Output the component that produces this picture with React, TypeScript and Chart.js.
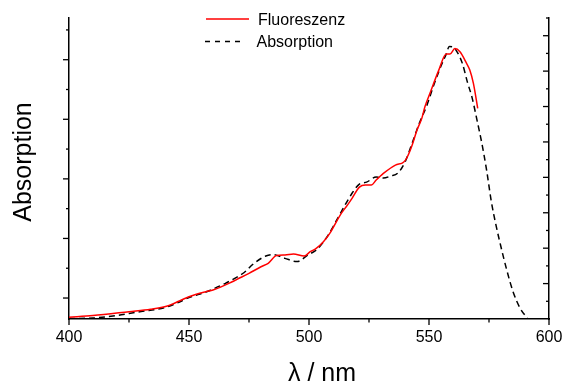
import React, { useEffect, useRef } from 'react';
import { Chart, registerables } from 'chart.js';

Chart.register(...registerables);

const FONT = '"Liberation Sans", Arial, Helvetica, sans-serif';

// Fluoreszenz (red, solid)
const fluorNm = [400, 410, 425, 434, 441, 446, 450, 457, 460, 468, 470, 475, 480, 483, 486.5, 490, 493.5, 498, 500.5, 503, 506, 509, 513, 516, 518, 521, 523.5, 526, 528, 531, 536, 539.5, 541, 543, 545, 547, 548.3, 550.4, 554, 557.2, 558.75, 560.8, 562.9, 565.5, 567, 568.5, 570.3];
const fluorVal = [-0.324, -0.294, -0.23, -0.19, -0.134, -0.05, 0.022, 0.106, 0.134, 0.273, 0.314, 0.414, 0.525, 0.582, 0.713, 0.721, 0.738, 0.705, 0.777, 0.834, 0.945, 1.107, 1.393, 1.56, 1.678, 1.862, 1.896, 1.896, 1.98, 2.092, 2.232, 2.282, 2.371, 2.567, 2.819, 3.015, 3.21, 3.435, 3.817, 4.094, 4.094, 4.186, 4.133, 3.951, 3.826, 3.602, 3.183];

// Absorption (black, dashed)
const absNm = [400, 410, 420, 425, 430, 440, 445, 450, 457, 460, 465, 470, 473, 477, 482, 485, 490, 495, 499.5, 503.5, 508, 512, 515, 518, 521, 524, 528, 531, 534, 537, 540, 543, 546, 549, 552, 555, 557, 558.5, 560, 562, 564, 566, 568, 570, 572, 574, 576, 578, 580, 582.4, 585, 588, 590.5, 591.5];
const absVal = [-0.344, -0.336, -0.294, -0.26, -0.227, -0.159, -0.084, 0.008, 0.101, 0.151, 0.243, 0.352, 0.428, 0.579, 0.705, 0.73, 0.666, 0.612, 0.721, 0.822, 1.057, 1.342, 1.56, 1.762, 1.913, 1.946, 2.03, 2.013, 2.047, 2.097, 2.282, 2.601, 2.936, 3.221, 3.574, 3.893, 4.077, 4.22, 4.211, 4.111, 3.926, 3.624, 3.356, 2.987, 2.601, 2.148, 1.611, 1.208, 0.856, 0.47, 0.109, -0.173, -0.314, -0.361];

// Tick positions
const xTickLabels = [400, 450, 500, 550, 600];
const xMinorTicks = [425, 475, 525, 575];
const leftMajorTicks = [0, 1, 2, 3, 4];
const leftMinorTicks = [0.5, 1.5, 2.5, 3.5, 4.5];
const rightMajorTicks = [1, 2, 3, 4, 5, 6, 7, 8];
const rightMinorTicks = [0.5, 1.5, 2.5, 3.5, 4.5, 5.5, 6.5, 7.5, 8.5];

const seriesNames = ['Fluoreszenz', 'Absorption'];
const xTitle = 'λ / nm';
const yTitle = 'Absorption';

const decorPlugin = {
  id: 'decor',
  afterDraw(chart: any) {
    const { ctx, chartArea, scales } = chart;
    const sx = scales.x;
    const sy = scales.y;
    const sy2 = scales.y2;
    ctx.save();
    ctx.strokeStyle = '#000';
    ctx.lineWidth = 1.3;
    const seg = (x1: number, y1: number, x2: number, y2: number) => {
      ctx.beginPath();
      ctx.moveTo(x1, y1);
      ctx.lineTo(x2, y2);
      ctx.stroke();
    };
    const b = chartArea.bottom;
    xTickLabels.forEach((v) => { const p = sx.getPixelForValue(v); seg(p, b, p, b + 6); });
    xMinorTicks.forEach((v) => { const p = sx.getPixelForValue(v); seg(p, b, p, b + 3.5); });
    const l = chartArea.left;
    leftMajorTicks.forEach((v) => { const p = sy.getPixelForValue(v); seg(l - 6, p, l, p); });
    leftMinorTicks.forEach((v) => { const p = sy.getPixelForValue(v); seg(l - 3, p, l, p); });
    const r = chartArea.right;
    rightMajorTicks.forEach((v) => { const p = sy2.getPixelForValue(v); seg(r - 6, p, r, p); });
    rightMinorTicks.forEach((v) => { const p = sy2.getPixelForValue(v); seg(r - 3, p, r, p); });

    // axis titles
    ctx.fillStyle = '#000';
    ctx.font = `25px ${FONT}`;
    ctx.textAlign = 'center';
    ctx.textBaseline = 'alphabetic';
    ctx.fillText(xTitle, 322, 381);
    ctx.save();
    ctx.translate(30.5, 162);
    ctx.rotate(-Math.PI / 2);
    ctx.fillText(yTitle, 0, 0);
    ctx.restore();

    // legend
    ctx.font = `16px ${FONT}`;
    ctx.textAlign = 'left';
    ctx.lineWidth = 1.5;
    ctx.strokeStyle = '#ff0000';
    seg(206, 19, 249, 19);
    ctx.fillText(seriesNames[0], 258, 25);
    ctx.strokeStyle = '#000';
    ctx.setLineDash([5, 5]);
    seg(205, 41.5, 244, 41.5);
    ctx.setLineDash([]);
    ctx.fillText(seriesNames[1], 256.5, 47);
    ctx.restore();
  },
};

export default function App() {
  const canvasRef = useRef<HTMLCanvasElement | null>(null);

  useEffect(() => {
    if (!canvasRef.current) return;
    const chart = new Chart(canvasRef.current, {
      type: 'line',
      data: {
        datasets: [
          {
            label: seriesNames[0],
            data: fluorNm.map((x, i) => ({ x, y: fluorVal[i] })),
            borderColor: '#ff0000',
            borderWidth: 1.5,
            pointRadius: 0,
            fill: false,
            cubicInterpolationMode: 'monotone',
            yAxisID: 'y',
          },
          {
            label: seriesNames[1],
            data: absNm.map((x, i) => ({ x, y: absVal[i] })),
            borderColor: '#000000',
            borderWidth: 1.5,
            borderDash: [6, 4],
            pointRadius: 0,
            fill: false,
            cubicInterpolationMode: 'monotone',
            yAxisID: 'y',
          },
        ],
      },
      options: {
        responsive: false,
        maintainAspectRatio: false,
        animation: false,
        layout: { padding: { top: 18, left: 0, right: 0, bottom: 0 } },
        plugins: { legend: { display: false }, tooltip: { enabled: false } },
        scales: {
          x: {
            type: 'linear',
            position: 'bottom',
            min: 400,
            max: 600,
            afterFit: (s: any) => {
              s.height = 64;
              s.paddingLeft = 0;
              s.paddingRight = 0;
            },
            afterBuildTicks: (s: any) => { s.ticks = xTickLabels.map((v) => ({ value: v })); },
            ticks: {
              color: '#000',
              font: { family: FONT, size: 16 },
              padding: 9,
              maxRotation: 0,
              autoSkip: false,
            },
            grid: { display: false, drawTicks: false },
            border: { display: true, color: '#000', width: 1.5 },
          },
          y: {
            type: 'linear',
            position: 'left',
            min: -0.352,
            max: 4.7,
            afterFit: (s: any) => { s.width = 69; },
            ticks: { display: false },
            grid: { display: false, drawTicks: false },
            border: { display: true, color: '#000', width: 1.5 },
          },
          y2: {
            type: 'linear',
            position: 'right',
            min: 0,
            max: 8.5,
            afterFit: (s: any) => { s.width = 16; },
            ticks: { display: false },
            grid: { display: false, drawTicks: false },
            border: { display: true, color: '#000', width: 1.5 },
          },
        },
      },
      plugins: [decorPlugin],
    });
    return () => chart.destroy();
  }, []);

  return (
    <div style={{ position: 'fixed', left: 0, top: 0, width: 565, height: 383, background: '#fff' }}>
      <canvas ref={canvasRef} width={565} height={383} style={{ width: 565, height: 383 }} />
    </div>
  );
}
